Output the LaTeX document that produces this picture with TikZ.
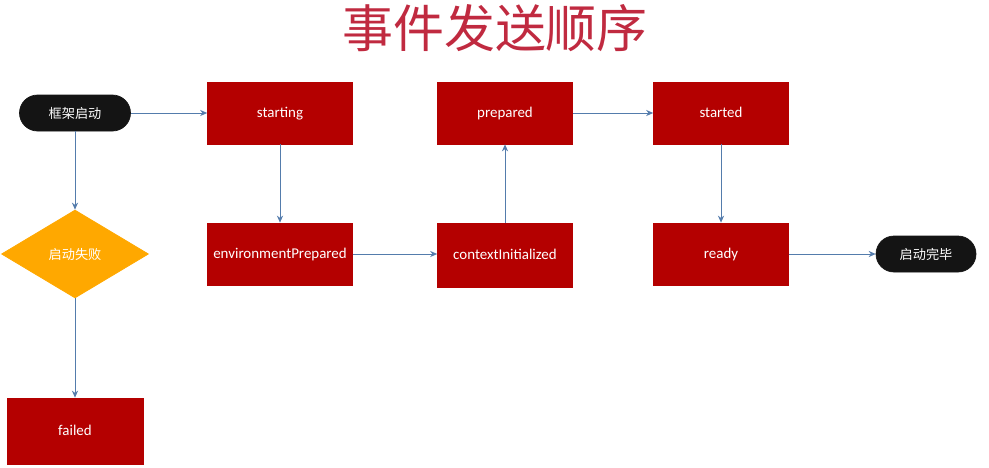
\documentclass[tikz,border=0pt]{standalone}
\usepackage{fontspec}
\setmainfont{Carlito}
\newfontfamily\cjkfont{Noto Sans CJK SC}
\usepackage{xcolor}
\usepackage{tikz}
\usetikzlibrary{shapes.geometric, arrows.meta}
\definecolor{myred}{RGB}{180,0,0}
\definecolor{mytitle}{RGB}{192,42,64}
\definecolor{mydark}{RGB}{20,20,20}
\definecolor{myorange}{RGB}{255,168,0}
\definecolor{myline}{RGB}{84,124,172}
\tikzset{
  evtblock/.style={rectangle, draw=myred, fill=myred, text=white,
    minimum width=2.9cm, minimum height=1.24cm,
    text height=1.6ex, text depth=0.5ex,
    font=\fontsize{8.5}{10}\selectfont, line width=0.4pt},
  pill/.style={rectangle, draw=mydark, fill=mydark, text=white,
    minimum height=0.72cm, rounded corners=0.36cm,
    font=\cjkfont\fontsize{7.5}{9}\selectfont},
  decision/.style={diamond, draw=myorange, fill=myorange, text=white,
    minimum width=2.94cm, minimum height=1.76cm, inner sep=0pt,
    font=\cjkfont\fontsize{7.5}{9}\selectfont},
  flow/.style={-{Stealth[length=4pt, width=3.5pt]}, line width=0.5pt, color=myline}
}
\begin{document}
\begin{tikzpicture}
  \useasboundingbox (0,0) rectangle (19.78,9.34);
  % --- TITLE ---
  \node[font=\cjkfont\fontsize{29}{32}\selectfont, text=mytitle] (title) at (9.9, 8.78) {事件发送顺序};

  % --- START / FAILURE BRANCH ---
  \node[pill, minimum width=2.22cm] (n_boot) at (1.5, 7.08) {框架启动};
  \node[decision] (n_fail) at (1.5, 4.26) {启动失败};
  \node[evtblock, minimum width=2.72cm, minimum height=1.32cm] (e_failed) at (1.5, 0.72) {failed};

  % --- EVENT CHAIN ---
  \node[evtblock] (e_starting) at (5.6, 7.08) {starting};
  \node[evtblock] (e_envprep) at (5.6, 4.26) {environmentPrepared};
  \node[evtblock, minimum width=2.7cm, minimum height=1.28cm] (e_ctxinit) at (10.1, 4.24) {contextInitialized};
  \node[evtblock, minimum width=2.7cm] (e_prepared) at (10.1, 7.08) {prepared};
  \node[evtblock, minimum width=2.7cm] (e_started) at (14.42, 7.08) {started};
  \node[evtblock, minimum width=2.7cm] (e_ready) at (14.42, 4.26) {ready};
  \node[pill, minimum width=2.0cm] (n_done) at (18.52, 4.26) {启动完毕};

  % --- CONNECTORS ---
  \draw[flow] (n_boot.east) -- (e_starting.west);
  \draw[flow] (n_boot.south) -- (n_fail.north);
  \draw[flow] (n_fail.south) -- (e_failed.north);
  \draw[flow] (e_starting.south) -- (e_envprep.north);
  \draw[flow] (e_envprep.east) -- (e_ctxinit.west |- e_envprep.east);
  \draw[flow] (e_ctxinit.north) -- (e_prepared.south);
  \draw[flow] (e_prepared.east) -- (e_started.west);
  \draw[flow] (e_started.south) -- (e_ready.north);
  \draw[flow] (e_ready.east) -- (n_done.west);
\end{tikzpicture}
\end{document}
